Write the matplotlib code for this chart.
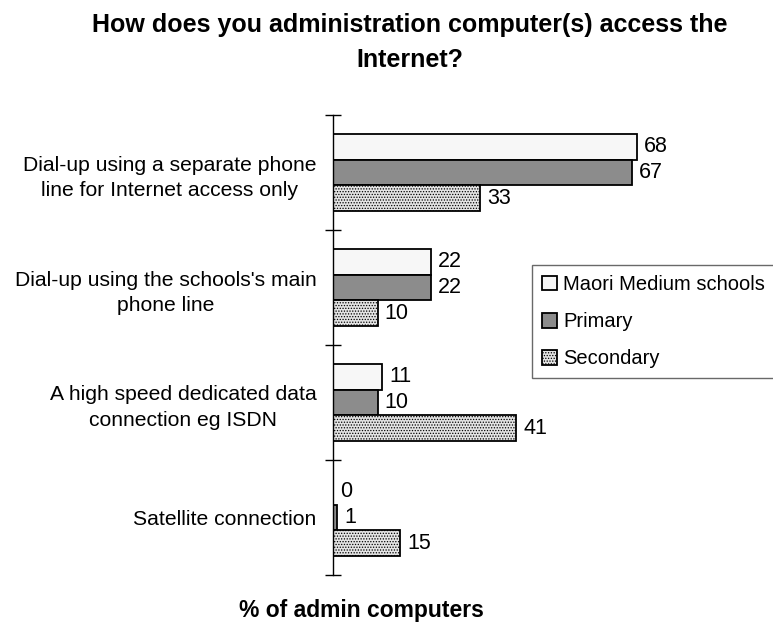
import numpy as np
import matplotlib
matplotlib.use("Agg")
import matplotlib.pyplot as plt

plt.rcParams['font.family'] = ['Liberation Sans', 'DejaVu Sans']
plt.rcParams['hatch.linewidth'] = 0.6

# data, top to bottom
categories = [
    "Dial-up using a separate phone\nline for Internet access only",
    "Dial-up using the schools's main\nphone line",
    "A high speed dedicated data\nconnection eg ISDN",
    "Satellite connection",
]
series_names = ["Maori Medium schools", "Primary", "Secondary"]
maori = [68, 22, 11, 0]
primary = [67, 22, 10, 1]
secondary = [33, 10, 41, 15]

fig = plt.figure(figsize=(7.73, 6.23), dpi=100)
ax = fig.add_axes([333 / 773, 48 / 623, 0.52, 460 / 623])

y = np.arange(len(categories))
h = 0.226
bars1 = ax.barh(y - h, maori, height=h, color="#f7f7f7", edgecolor="black", linewidth=1.3,
                label=series_names[0])
bars2 = ax.barh(y, primary, height=h, color="#8c8c8c", edgecolor="black", linewidth=1.3,
                label=series_names[1])
bars3 = ax.barh(y + h, secondary, height=h, color="#e4e4e4", edgecolor="black", linewidth=1.3,
                hatch="......", label=series_names[2])

for bars in (bars1, bars2, bars3):
    ax.bar_label(bars, padding=5, fontsize=15.5)

ax.set_xlim(0, 90)
ax.set_ylim(len(categories) - 0.5, -0.5)

# category labels at centers, tick marks at group boundaries
ax.set_yticks(y)
ax.set_yticklabels(categories, fontsize=15.2, multialignment="center", linespacing=1.45)
ax.tick_params(axis="y", which="major", length=0, pad=12)
ax.set_yticks(np.arange(-0.5, len(categories)), minor=True)
ax.tick_params(axis="y", which="minor", length=12, direction="inout", width=1)
ax.set_xticks([])

for s in ("top", "right", "bottom"):
    ax.spines[s].set_visible(False)
ax.spines["left"].set_linewidth(1)

leg = ax.legend(loc="upper left", bbox_to_anchor=(532 / 773, 1 - 265 / 623),
                bbox_transform=fig.transFigure, fontsize=14.5, frameon=True, fancybox=False,
                handlelength=0.75, handleheight=0.75, handletextpad=0.3,
                labelspacing=0.9, borderpad=0.5, borderaxespad=0)
leg.get_frame().set_edgecolor("#444444")
leg.get_frame().set_linewidth(1)

fig.text(0.53, 1 - 25 / 623, "How does you administration computer(s) access the",
         ha="center", va="center", fontsize=18, fontweight="bold")
fig.text(0.53, 1 - 60 / 623, "Internet?", ha="center", va="center",
         fontsize=18, fontweight="bold")
fig.text(361 / 773, 1 - 610 / 623, "% of admin computers", ha="center", va="center",
         fontsize=16.5, fontweight="bold")

fig.savefig("out.png", dpi=100)
